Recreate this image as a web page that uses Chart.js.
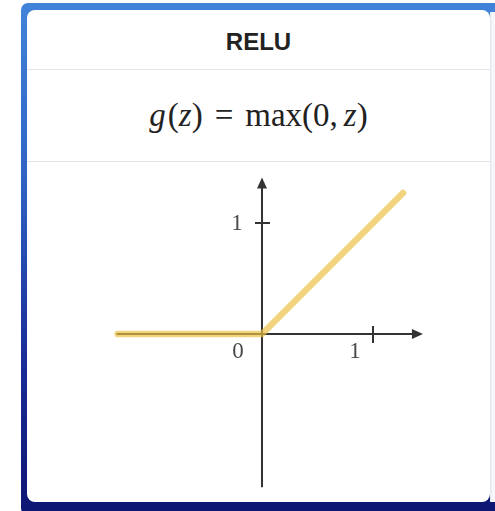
<!DOCTYPE html>
<html>
<head>
<meta charset="utf-8">
<script src="https://cdn.jsdelivr.net/npm/chart.js@4/dist/chart.umd.min.js"></script>
<style>
  html, body { margin: 0; padding: 0; background: #ffffff; }
  body { width: 495px; height: 511px; position: relative; overflow: hidden; }
  .frame {
    position: absolute; left: 21px; top: 3px; width: 480px; height: 512px;
    border-radius: 7px;
    background: linear-gradient(180deg, #4283da 0%, #2f62c2 35%, #1a2c98 70%, #0e1672 100%);
  }
  .edge {
    position: absolute; left: 490px; top: 12px; width: 6px; height: 490px;
    background: linear-gradient(90deg, #dfe4ec 0px, #f4f6fa 2px, #f7f8fb 100%);
  }
  .card {
    position: absolute; left: 27px; top: 10px; width: 463px; height: 492px;
    background: #ffffff; border-radius: 8px; overflow: hidden;
  }
  .title {
    position: absolute; left: 0; top: 0; width: 100%;
    border-bottom: 1px solid #e6e6e6;
    font: bold 24px "Liberation Sans", Arial, sans-serif; color: #222;
    display: flex; align-items: center; justify-content: center;
    padding-top: 5px; box-sizing: border-box; height: 60px;
  }
  .formula {
    position: absolute; left: 0; top: 60px; width: 100%; height: 91px;
    border-bottom: 1px solid #e6e6e6;
    font: 33px "Liberation Serif", "DejaVu Serif", serif; color: #222;
    display: flex; align-items: center; justify-content: center;
  }
  .formula i { font-style: italic; }
  .formula .sp { display: inline-block; width: 12px; }
  .formula .th { display: inline-block; width: 6px; }
  .formula .ts { display: inline-block; width: 2px; }
  .plot { position: absolute; left: 0; top: 152px; width: 463px; height: 340px; }
</style>
</head>
<body>
<div class="frame"></div>
<div class="edge"></div>
<div class="card">
  <div class="title">RELU</div>
  <div class="formula"><span><i>g</i><span class="ts"></span>(<i>z</i>)<span class="sp"></span>=<span class="sp"></span>max(0,<span class="th"></span><i>z</i>)</span></div>
  <div class="plot"><canvas id="chart"></canvas></div>
</div>
<script>
// ReLU curve points: g(z) = max(0, z)
const reluZ = [-1.30, 0, 1.27];
const reluG = [0, 0, 1.27];

// extents of the drawn axes (in data units)
const axisXRange = [-1.31, 1.45];
const axisYRange = [-1.38, 1.41];

// tick marks and their labels
const xTicks = [1];
const xTickLabels = ['1'];
const yTicks = [1];
const yTickLabels = ['1'];
const originLabel = '0';

const points = reluZ.map((z, i) => ({ x: z, y: reluG[i] }));

function arrow(ctx, x, y, dir) {
  const len = 11, half = 5;
  ctx.beginPath();
  if (dir === 'right') {
    ctx.moveTo(x, y); ctx.lineTo(x - len, y - half); ctx.lineTo(x - len, y + half);
  } else {
    ctx.moveTo(x, y); ctx.lineTo(x - half, y + len); ctx.lineTo(x + half, y + len);
  }
  ctx.closePath();
  ctx.fill();
}

const crossAxes = {
  id: 'crossAxes',
  beforeDatasetsDraw(chart) {
    const { ctx, scales: { x, y } } = chart;
    const x0 = x.getPixelForValue(0), y0 = y.getPixelForValue(0);
    const xl = x.getPixelForValue(axisXRange[0]), xr = x.getPixelForValue(axisXRange[1]);
    const yb = y.getPixelForValue(axisYRange[0]), yt = y.getPixelForValue(axisYRange[1]);
    ctx.save();
    ctx.strokeStyle = '#333333';
    ctx.fillStyle = '#333333';
    ctx.lineWidth = 2;
    ctx.beginPath();
    ctx.moveTo(xl, y0); ctx.lineTo(xr - 8, y0);
    ctx.moveTo(x0, yb); ctx.lineTo(x0, yt + 8);
    ctx.stroke();
    arrow(ctx, xr, y0, 'right');
    arrow(ctx, x0, yt, 'up');

    ctx.beginPath();
    xTicks.forEach(v => { const p = x.getPixelForValue(v); ctx.moveTo(p, y0 - 8); ctx.lineTo(p, y0 + 9); });
    yTicks.forEach(v => { const p = y.getPixelForValue(v); ctx.moveTo(x0 - 7, p); ctx.lineTo(x0 + 8, p); });
    ctx.stroke();

    ctx.fillStyle = '#4a4a4a';
    ctx.font = '23px "Liberation Serif", "DejaVu Serif", serif';
    ctx.textAlign = 'center';
    ctx.textBaseline = 'middle';
    xTicks.forEach((v, i) => ctx.fillText(xTickLabels[i], x.getPixelForValue(v) - 18, y0 + 18));
    yTicks.forEach((v, i) => ctx.fillText(yTickLabels[i], x0 - 25, y.getPixelForValue(v) + 1));
    ctx.fillText(originLabel, x0 - 24, y0 + 18);
    ctx.restore();
  }
};

new Chart(document.getElementById('chart'), {
  type: 'line',
  data: {
    datasets: [{
      data: points,
      borderColor: 'rgba(236, 192, 66, 0.68)',
      borderWidth: 6.5,
      borderCapStyle: 'round',
      borderJoinStyle: 'round',
      pointRadius: 0,
      tension: 0,
      fill: false
    }]
  },
  options: {
    responsive: true,
    maintainAspectRatio: false,
    animation: false,
    layout: { padding: 0 },
    plugins: { legend: { display: false }, tooltip: { enabled: false } },
    scales: {
      x: { type: 'linear', min: -2.117, max: 2.054, display: false },
      y: { type: 'linear', min: -1.514, max: 1.550, display: false }
    }
  },
  plugins: [crossAxes]
});
</script>
</body>
</html>
